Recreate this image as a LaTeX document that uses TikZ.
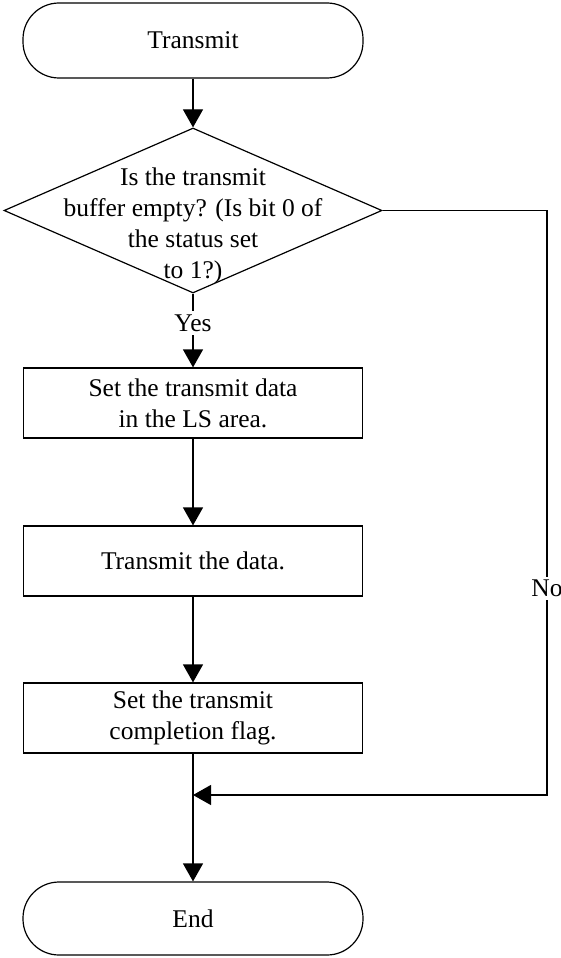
\documentclass[tikz,border=0pt]{standalone}
\usepackage{fontspec}
\setmainfont{Liberation Serif}
\usetikzlibrary{positioning,arrows.meta,shapes.geometric}

\begin{document}
\begin{tikzpicture}[x=1pt, y=-1pt, line width=1.2pt,
  every node/.style={font=\fontsize{25.5}{31}\selectfont},
  term/.style={draw, rounded corners=36pt, minimum width=340pt, minimum height=75pt},
  proc/.style={draw, align=center, minimum width=339pt, minimum height=70pt},
  flow/.style={-{Triangle[width=20pt, length=18pt]}}]
  \useasboundingbox (0,0) rectangle (561,958);

  % Start
  \node[term] (start) at (193,40.5) {Transmit};

  % Decision
  \node[diamond, draw, inner sep=0pt, minimum width=378pt, minimum height=165pt] (dec) at (193,210.5) {};
  \node[align=center] (dectext) at (193,226) {Is the transmit\\buffer empty? (Is bit 0 of\\the status set\\to 1?)};

  % Processes
  \node[proc] (setdata) at (193,403) {Set the transmit data\\in the LS area.};
  \node[proc] (send) at (193,561) {Transmit the data.};
  \node[proc] (setflag) at (193,718) {Set the transmit\\completion flag.};

  % End
  \node[term, minimum height=73pt] (stop) at (193,918.5) {End};
  \coordinate (join) at (193,795);

  % Connectors
  \draw[flow] (start) -- (dec);
  \draw[flow] (dec) -- node[pos=0.4, fill=white] (yes) {Yes} (setdata);
  \draw[flow] (setdata) -- (send);
  \draw[flow] (send) -- (setflag);
  \draw[flow] (setflag) -- (stop);
  \draw[flow] (dec.east) -- (547,210.5) -- node[pos=0.647, fill=white] (no) {No} (547,795) -- (join);
\end{tikzpicture}
\end{document}
